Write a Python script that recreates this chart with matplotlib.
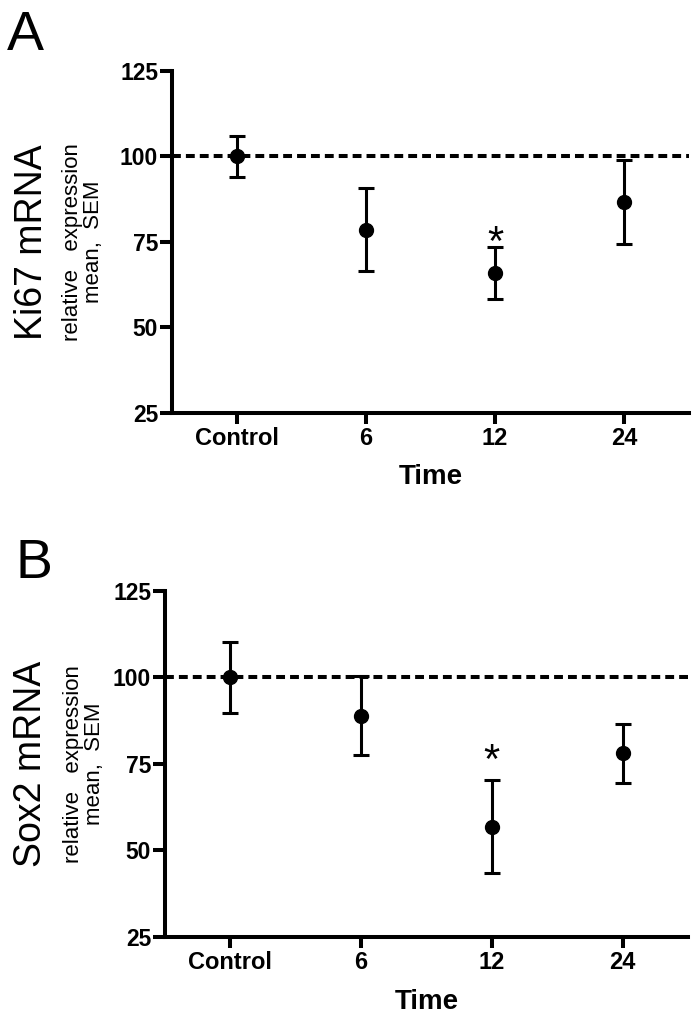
import matplotlib
matplotlib.use("Agg")
import matplotlib.pyplot as plt

plt.rcParams['font.family'] = ['Liberation Sans', 'DejaVu Sans']

groups = ["Control", "6", "12", "24"]

ki67_mean = [100.0, 78.6, 65.9, 86.7]
ki67_sem = [6.0, 12.2, 7.5, 12.3]
ki67_star = 77.7

sox2_mean = [100.0, 88.9, 56.8, 78.0]
sox2_sem = [10.3, 11.4, 13.4, 8.5]
sox2_star = 78.6

yticks = [25, 50, 75, 100, 125]

W, H = 697, 1028
fig = plt.figure(figsize=(W / 100, H / 100), dpi=100)


def panel(rect, mean, sem, star, letter, letter_xy, gene, gene_x, sub_x):
    ax = fig.add_axes(rect)
    x = list(range(len(groups)))
    ax.axhline(100, color='black', lw=2.9, linestyle=(0, (2.2, 1.25)), zorder=1)
    ax.errorbar(x, mean, yerr=sem, fmt='o', color='black', ms=10,
                elinewidth=2.2, capsize=6, capthick=2.2, zorder=3)
    ax.annotate('*', xy=(2, star), xytext=(0, -16), textcoords='offset points',
                ha='center', va='baseline', fontsize=30)
    ax.set_xlim(-0.5, 3.5)
    ax.set_ylim(25, 125)
    ax.set_yticks(yticks)
    ax.set_xticks(x)
    ax.set_xticklabels(groups)
    for s in ['top', 'right']:
        ax.spines[s].set_visible(False)
    for s in ['left', 'bottom']:
        ax.spines[s].set_linewidth(2.9)
    ax.tick_params(axis='y', length=8.5, width=2.9, pad=1.5, labelsize=16.5)
    ax.tick_params(axis='x', length=8, width=2.9, pad=2, labelsize=17)
    for lab in ax.get_xticklabels() + ax.get_yticklabels():
        lab.set_fontweight('bold')
    ax.set_xlabel('Time', fontsize=20, fontweight='bold')
    ax.xaxis.set_label_coords(0.5, -0.15)

    cy = rect[1] + rect[3] / 2
    fig.text(letter_xy[0], letter_xy[1], letter, fontsize=40, va='baseline')
    fig.text(gene_x, cy, gene, fontsize=27, rotation=90, ha='center', va='center')
    fig.text(sub_x, cy, 'relative   expression\nmean,  SEM', fontsize=16,
             rotation=90, ha='center', va='center', multialignment='center',
             linespacing=1.05)
    return ax


panel([172 / W, 1 - 413 / H, 517 / W, 342.3 / H], ki67_mean, ki67_sem, ki67_star,
      'A', (7 / W, 1 - 50 / H), 'Ki67 mRNA', 32 / W, 83 / W)
panel([165 / W, 1 - 936.7 / H, 523 / W, 346 / H], sox2_mean, sox2_sem, sox2_star,
      'B', (15 / W, 1 - 578 / H), 'Sox2 mRNA', 31 / W, 84 / W)

fig.savefig('out.png', dpi=100)
